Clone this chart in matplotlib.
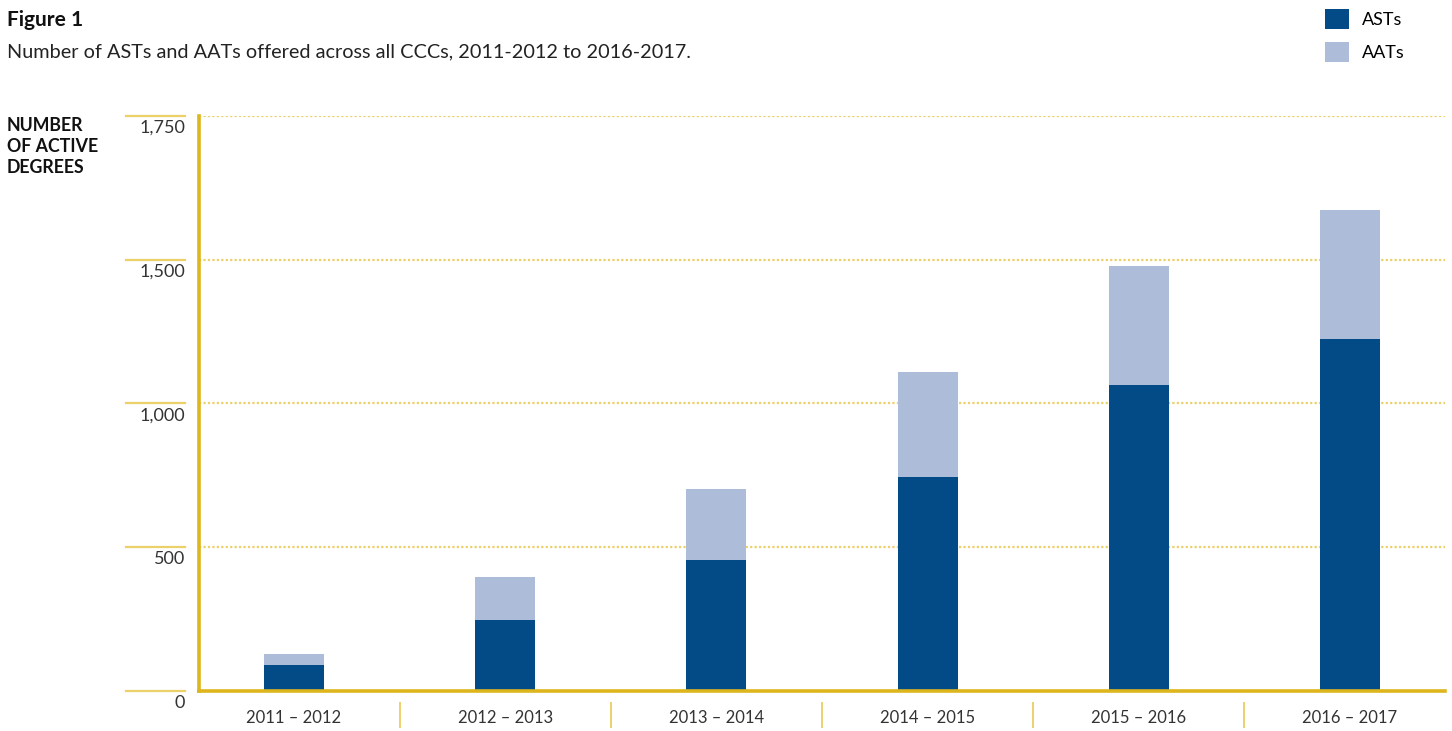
import numpy as np
import matplotlib.pyplot as plt
from matplotlib.transforms import blended_transform_factory, offset_copy

years = ['2011 – 2012', '2012 – 2013', '2013 – 2014', '2014 – 2015', '2015 – 2016', '2016 – 2017']
asts = [90, 247, 455, 743, 1063, 1226]
aats = [38, 149, 246, 365, 416, 448]
# the original's top gridline is labelled 1,750 but sits one full step (500) above 1,500
yticks = [0, 500, 1000, 1500, 2000]
ytick_labels = ['0', '500', '1,000', '1,500', '1,750']

dark = '#024B86'
light = '#ADBCD9'
gold = '#DDB51C'
gold_lt = '#ECD06A'

plt.rcParams['font.family'] = ['Lato', 'DejaVu Sans']

W, H = 1452, 731
fig = plt.figure(figsize=(W / 100, H / 100), dpi=100)
ax = fig.add_axes([199 / W, 1 - 691 / H, (1445 - 199) / W, (691 - 116) / H])

x = np.arange(len(years))
b1 = ax.bar(x, asts, width=0.284, color=dark, label='ASTs', zorder=3)
b2 = ax.bar(x, aats, width=0.284, bottom=asts, color=light, label='AATs', zorder=3)

ax.set_xlim(-0.45, 5.45)
ax.set_ylim(0, 2000)

for s in ['top', 'right']:
    ax.spines[s].set_visible(False)
for s in ['left', 'bottom']:
    ax.spines[s].set_color(gold)
    ax.spines[s].set_linewidth(2.6)
    ax.spines[s].set_zorder(4)

# dotted gridlines
ax.set_yticks(yticks)
ax.set_yticklabels([])
ax.tick_params(axis='y', length=0)
ax.yaxis.grid(True, color=gold_lt, linestyle=(0, (1, 1)), linewidth=1.6, zorder=0)

ax.set_xticks(x)
ax.set_xticklabels(years, fontsize=12, color='#333333')
ax.tick_params(axis='x', length=0, pad=14)

# y tick labels below short solid lines left of the axis
trans = blended_transform_factory(fig.transFigure, ax.transData)
for v, lab in zip(yticks, ytick_labels):
    ax.plot([126 / W, 185 / W], [v, v], transform=trans, color=gold_lt,
            linewidth=1.6, clip_on=False)
    ax.text(185 / W, v, lab, transform=offset_copy(trans, fig=fig, y=-4, units='dots'),
            ha='right', va='top', fontsize=13, color='#333333')

# category separators
trans2 = blended_transform_factory(ax.transData, fig.transFigure)
for sx in x[:-1] + 0.5:
    ax.plot([sx, sx], [1 - 727 / H, 1 - 703 / H], transform=trans2, color=gold_lt,
            linewidth=1.4, clip_on=False)

fig.text(7 / W, 1 - 20 / H, 'Figure 1', fontsize=15, fontweight='bold', color='#111111', va='center')
fig.text(7 / W, 1 - 52 / H, 'Number of ASTs and AATs offered across all CCCs, 2011-2012 to 2016-2017.',
         fontsize=14.3, color='#222222', va='center')
fig.text(7 / W, 1 - 117 / H, 'NUMBER\nOF ACTIVE\nDEGREES', fontsize=12.8, fontweight='bold',
         color='#111111', va='top', linespacing=1.3)

fig.legend(handles=[b1, b2], loc='upper left', bbox_to_anchor=(1318 / W, 1 - 2 / H),
           frameon=False, fontsize=13, handlelength=1.33, handleheight=1.33,
           labelspacing=0.7, handletextpad=0.7, borderaxespad=0)

fig.savefig('out.png', dpi=100)
